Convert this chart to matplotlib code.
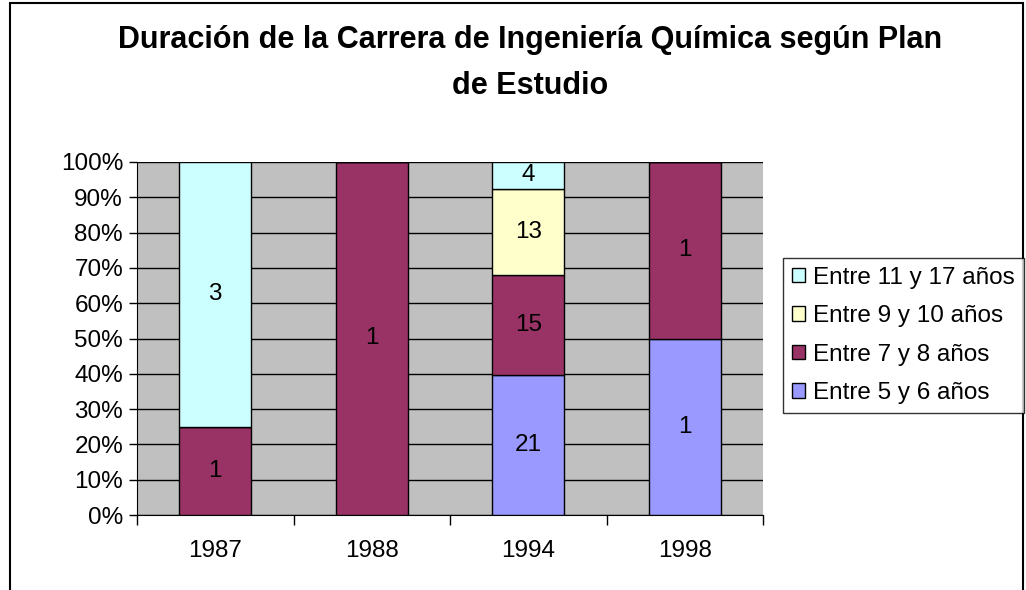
import matplotlib.pyplot as plt
from matplotlib.patches import Rectangle
import numpy as np

plt.rcParams['font.family'] = ['Liberation Sans', 'DejaVu Sans']

years = ['1987', '1988', '1994', '1998']
series_names = ['Entre 5 y 6 años', 'Entre 7 y 8 años', 'Entre 9 y 10 años', 'Entre 11 y 17 años']
entre_5_6 = [0, 0, 21, 1]
entre_7_8 = [1, 1, 15, 1]
entre_9_10 = [0, 0, 13, 0]
entre_11_17 = [3, 0, 4, 0]
colors = ['#9999FF', '#993366', '#FFFFCC', '#CCFFFF']

data = np.array([entre_5_6, entre_7_8, entre_9_10, entre_11_17], dtype=float)
totals = data.sum(axis=0)
pct = data / totals * 100

fs = 17.5

fig = plt.figure(figsize=(10.26, 5.90), dpi=100)
fig.patch.set_facecolor('white')

# outer chart border (bottom cut off like the reference)
fig.patches.append(Rectangle((10 / 1026, -0.05), 1013 / 1026, 1.05 - 3 / 590,
                             transform=fig.transFigure, fill=False,
                             edgecolor='black', linewidth=1.5))

ax = fig.add_axes([137 / 1026, 75 / 590, 626 / 1026, 353 / 590])
ax.set_facecolor('#C0C0C0')

x = np.arange(len(years))
bottom = np.zeros(len(years))
handles = []
for i in range(len(series_names)):
    bars = ax.bar(x, pct[i], 0.46, bottom=bottom, color=colors[i],
                  edgecolor='black', linewidth=1, zorder=3, label=series_names[i])
    handles.append(bars)
    for j in range(len(years)):
        if data[i, j] > 0:
            ax.text(x[j], bottom[j] + pct[i, j] / 2, '%d' % data[i, j],
                    ha='center', va='center', fontsize=fs, zorder=4)
    bottom += pct[i]

ax.set_xlim(-0.5, len(years) - 0.5)
ax.set_ylim(0, 100)
ax.set_yticks(np.arange(0, 101, 10))
ax.set_yticklabels(['%d%%' % v for v in range(0, 101, 10)], fontsize=fs)
ax.yaxis.grid(True, color='black', linewidth=1, zorder=1)
ax.set_axisbelow(True)

ax.set_xticks(x)
ax.set_xticklabels(years, fontsize=fs)
ax.tick_params(axis='x', length=0, pad=18)
ax.set_xticks(np.arange(-0.5, len(years)), minor=True)
ax.tick_params(axis='x', which='minor', length=7, width=1, color='black')
ax.tick_params(axis='y', length=6, width=1, color='black', pad=4)

for s in ['top', 'right']:
    ax.spines[s].set_visible(False)
ax.spines['left'].set_color('black')
ax.spines['bottom'].set_color('black')

fig.text(530 / 1026, 1 - 40 / 590, 'Duración de la Carrera de Ingeniería Química según Plan',
         ha='center', va='center', fontsize=22, fontweight='bold')
fig.text(530 / 1026, 1 - 86 / 590, 'de Estudio',
         ha='center', va='center', fontsize=22, fontweight='bold')

leg = fig.legend(handles[::-1], series_names[::-1], loc='upper left',
                 bbox_to_anchor=(783 / 1026, 1 - 258 / 590), fontsize=fs,
                 frameon=True, fancybox=False, edgecolor='black',
                 handlelength=0.55, handleheight=0.55, handletextpad=0.35,
                 labelspacing=0.68, borderpad=0.35, borderaxespad=0)
leg.get_frame().set_linewidth(1)

fig.savefig('out.png', dpi=100)
